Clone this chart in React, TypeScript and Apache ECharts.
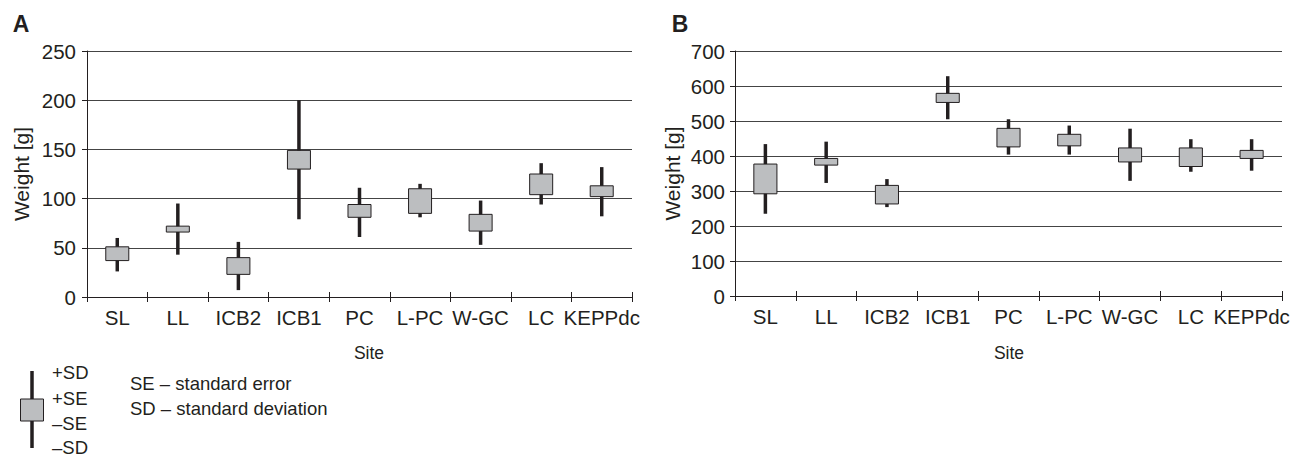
import React, { useEffect, useRef } from "react";
import * as echarts from "echarts";

const sites = ["SL", "LL", "ICB2", "ICB1", "PC", "L-PC", "W-GC", "LC", "KEPPdc"];

// Panel A (weight, g)
const sdHiA = [60, 95, 56, 200, 111, 115, 98, 136, 132];
const seHiA = [51, 72, 40, 149, 94, 110, 84, 125, 113];
const seLoA = [37, 66, 23, 130, 81, 85, 67, 104, 102];
const sdLoA = [26, 43, 7, 79, 61, 81, 53, 94, 82];

// Panel B (weight, g)
const sdHiB = [434, 441, 334, 628, 505, 487, 478, 448, 448];
const seHiB = [377, 393, 316, 579, 479, 462, 423, 423, 416];
const seLoB = [292, 374, 263, 553, 426, 429, 383, 370, 393];
const sdLoB = [235, 323, 254, 505, 404, 404, 329, 355, 358];

const yTicksA = { min: 0, max: 250, interval: 50 };
const yTicksB = { min: 0, max: 700, interval: 100 };

const INK = "#231f20";
const BOX = "#bcbec0";
const FONT = "'Liberation Sans', Arial, sans-serif";

function buildData(sdLo: number[], seLo: number[], seHi: number[], sdHi: number[]) {
  return sites.map((_, i) => [i, sdLo[i], seLo[i], seHi[i], sdHi[i]]);
}

function renderItem(params: any, api: any) {
  const x = api.value(0);
  const pLoSD = api.coord([x, api.value(1)]);
  const pLoSE = api.coord([x, api.value(2)]);
  const pHiSE = api.coord([x, api.value(3)]);
  const pHiSD = api.coord([x, api.value(4)]);
  const w = api.size([1, 0])[0] * 0.38;
  return {
    type: "group",
    children: [
      {
        type: "line",
        shape: { x1: pLoSD[0], y1: pLoSD[1], x2: pHiSD[0], y2: pHiSD[1] },
        style: { stroke: INK, lineWidth: 3.5 },
      },
      {
        type: "rect",
        shape: { x: pHiSE[0] - w / 2, y: pHiSE[1], width: w, height: pLoSE[1] - pHiSE[1] },
        style: { fill: BOX, stroke: INK, lineWidth: 1 },
      },
    ],
  };
}

function xAxisMain(gridIndex: number) {
  return {
    type: "category",
    gridIndex,
    position: "bottom",
    data: sites,
    boundaryGap: true,
    axisLine: { show: true, lineStyle: { color: INK, width: 1 } },
    axisTick: { show: true, length: 5, inside: false, lineStyle: { color: INK } },
    axisLabel: { interval: 0, margin: 10, color: INK, fontSize: 20.5, fontFamily: FONT },
    splitLine: { show: false },
  };
}

function xAxisInnerTicks(gridIndex: number) {
  return {
    type: "category",
    gridIndex,
    position: "bottom",
    offset: 0,
    data: sites,
    boundaryGap: true,
    axisLine: { show: false },
    axisTick: { show: true, length: 5, inside: true, lineStyle: { color: INK } },
    axisLabel: { show: false },
    splitLine: { show: false },
  };
}

function yAxis(gridIndex: number, t: { min: number; max: number; interval: number }, nameGap: number, labelMargin: number) {
  return {
    type: "value",
    gridIndex,
    min: t.min,
    max: t.max,
    interval: t.interval,
    name: "Weight [g]",
    nameLocation: "middle",
    nameGap,
    nameTextStyle: { color: INK, fontSize: 21, fontFamily: FONT },
    axisLine: { show: true, lineStyle: { color: INK, width: 1 } },
    axisTick: { show: true, length: 5, lineStyle: { color: INK } },
    axisLabel: { margin: labelMargin, color: INK, fontSize: 20.5, fontFamily: FONT },
    splitLine: { show: true, lineStyle: { color: "#444", width: 1 } },
  };
}

export default function App() {
  const ref = useRef<HTMLDivElement>(null);

  useEffect(() => {
    document.body.style.margin = "0";
    if (!ref.current) return;
    const chart = echarts.init(ref.current, null, { renderer: "svg" });
    const legendText = (text: string, x: number, y: number, size = 18.5) => ({
      type: "text",
      x,
      y,
      style: { text, fill: INK, fontSize: size, lineHeight: 18, fontFamily: FONT, align: "left", verticalAlign: "middle" },
    });
    chart.setOption({
      animation: false,
      backgroundColor: "#ffffff",
      grid: [
        { left: 87, top: 51, width: 545, height: 246, containLabel: false },
        { left: 735, top: 51, width: 547, height: 245, containLabel: false },
      ],
      xAxis: [xAxisMain(0), xAxisInnerTicks(0), xAxisMain(1), xAxisInnerTicks(1)],
      yAxis: [yAxis(0, yTicksA, 55, 11), yAxis(1, yTicksB, 52, 10)],
      series: [
        {
          type: "custom",
          name: "A",
          xAxisIndex: 0,
          yAxisIndex: 0,
          renderItem,
          encode: { x: 0, y: [1, 2, 3, 4] },
          data: buildData(sdLoA, seLoA, seHiA, sdHiA),
        },
        {
          type: "custom",
          name: "B",
          xAxisIndex: 2,
          yAxisIndex: 1,
          renderItem,
          encode: { x: 0, y: [1, 2, 3, 4] },
          data: buildData(sdLoB, seLoB, seHiB, sdHiB),
        },
      ],
      graphic: [
        {
          type: "text",
          x: 21,
          y: 24,
          style: { text: "A", fill: INK, fontSize: 23, fontWeight: "bold", fontFamily: FONT, align: "center", verticalAlign: "middle" },
        },
        {
          type: "text",
          x: 680,
          y: 24,
          style: { text: "B", fill: INK, fontSize: 23, fontWeight: "bold", fontFamily: FONT, align: "center", verticalAlign: "middle" },
        },
        {
          type: "text",
          x: 369,
          y: 353,
          style: { text: "Site", fill: INK, fontSize: 17.5, fontFamily: FONT, align: "center", verticalAlign: "middle" },
        },
        {
          type: "text",
          x: 1009,
          y: 353,
          style: { text: "Site", fill: INK, fontSize: 17.5, fontFamily: FONT, align: "center", verticalAlign: "middle" },
        },
        {
          type: "line",
          shape: { x1: 32, y1: 371, x2: 32, y2: 448 },
          style: { stroke: INK, lineWidth: 3.5 },
        },
        {
          type: "rect",
          shape: { x: 20.5, y: 399, width: 23, height: 22 },
          style: { fill: BOX, stroke: INK, lineWidth: 1 },
        },
        legendText("+SD", 52, 372),
        legendText("+SE", 52, 398.5),
        legendText("\u2013SE", 52, 423.5),
        legendText("\u2013SD", 52, 447),
        legendText("SE \u2013 standard error", 130, 383.5),
        legendText("SD \u2013 standard deviation", 130, 408),
      ],
    });
    return () => chart.dispose();
  }, []);

  return <div ref={ref} style={{ width: 1305, height: 457 }} />;
}
